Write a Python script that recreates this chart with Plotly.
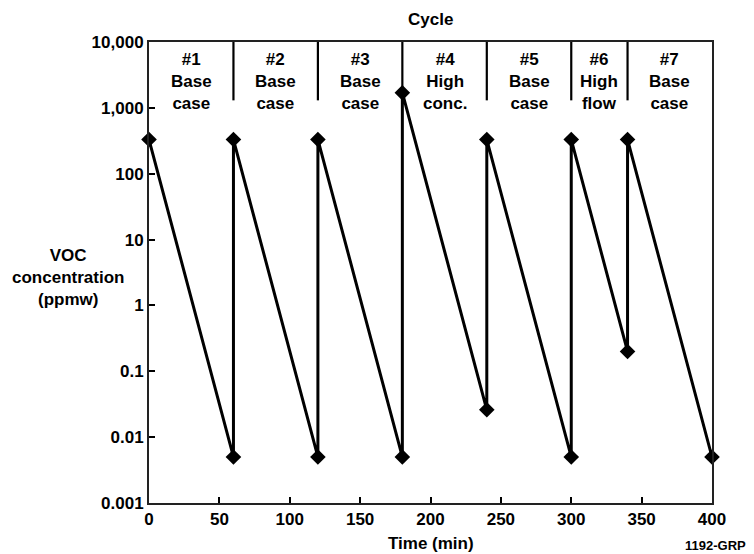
import plotly.graph_objects as go

# Data
time_min = [0, 60, 60, 120, 120, 180, 180, 240, 240, 300, 300, 340, 340, 400]
voc_ppmw = [330, 0.005, 330, 0.005, 330, 0.005, 1700, 0.026, 330, 0.005, 330, 0.2, 330, 0.005]

cycle_edges = [0, 60, 120, 180, 240, 300, 340, 400]
cycle_labels = ["#1<br>Base<br>case", "#2<br>Base<br>case", "#3<br>Base<br>case",
                "#4<br>High<br>conc.", "#5<br>Base<br>case", "#6<br>High<br>flow",
                "#7<br>Base<br>case"]
divider_bottom = 1300
divider_top = 10000

y_tickvals = [0.001, 0.01, 0.1, 1, 10, 100, 1000, 10000]
y_ticktext = ["0.001", "0.01", "0.1", "1", "10", "100", "1,000", "10,000"]
x_tickvals = [0, 50, 100, 150, 200, 250, 300, 350, 400]

FONT = "Liberation Sans, Arial, Helvetica, sans-serif"

fig = go.Figure()

# dividers between cycles
dx, dy = [], []
for e in cycle_edges[1:-1]:
    dx += [e, e, None]
    dy += [divider_bottom, divider_top, None]
fig.add_trace(go.Scatter(x=dx, y=dy, mode="lines",
                         line=dict(color="black", width=2.2),
                         hoverinfo="skip", showlegend=False, cliponaxis=False))

fig.add_trace(go.Scatter(x=time_min, y=voc_ppmw, mode="lines+markers",
                         line=dict(color="black", width=3),
                         marker=dict(symbol="diamond", size=12, color="black"),
                         showlegend=False, cliponaxis=False))

annotations = []
for i, lab in enumerate(cycle_labels):
    mid = (cycle_edges[i] + cycle_edges[i + 1]) / 2
    annotations.append(dict(x=mid, xref="x", y=1, yref="paper", yanchor="top",
                            yshift=-6, text=lab, showarrow=False,
                            font=dict(family=FONT, size=17, color="black", weight="bold")))

annotations.append(dict(x=0.5, xref="paper", y=1, yref="paper", yanchor="middle",
                        yshift=23, text="Cycle", showarrow=False,
                        font=dict(family=FONT, size=17, color="black", weight="bold")))
annotations.append(dict(x=0.5, xref="paper", y=0, yref="paper", yanchor="middle",
                        yshift=-40, text="Time (min)", showarrow=False,
                        font=dict(family=FONT, size=17, color="black", weight="bold")))
annotations.append(dict(x=1, xref="paper", y=0, yref="paper", yanchor="middle",
                        xanchor="right", xshift=36, yshift=-42, text="1192-GRP", showarrow=False,
                        font=dict(family=FONT, size=13, color="black", weight="bold")))
annotations.append(dict(x=0, xref="paper", y=0.49, yref="paper", yanchor="middle",
                        xanchor="center", xshift=-81,
                        text="VOC<br>concentration<br>(ppmw)", showarrow=False,
                        font=dict(family=FONT, size=17, color="black", weight="bold")))

# page body has an 8px margin, so the figure is drawn 8px smaller and offset
fig.update_layout(
    width=746, height=546,
    margin=dict(l=141, r=42, t=34, b=51),
    paper_bgcolor="white", plot_bgcolor="white",
    annotations=annotations,
    font=dict(family=FONT, size=17, color="black"),
)
fig.update_xaxes(range=[0, 400], tickvals=x_tickvals, ticks="inside", ticklen=6,
                 tickwidth=2, tickcolor="black", showline=True, linecolor="#222",
                 linewidth=2, mirror=True, showgrid=False, zeroline=False,
                 tickfont=dict(family=FONT, size=17, color="black", weight="bold"))
fig.update_yaxes(type="log", range=[-3, 4], tickvals=y_tickvals, ticktext=y_ticktext,
                 ticks="inside", ticklen=6, tickwidth=2, tickcolor="black",
                 showline=True, linecolor="#222", linewidth=2, mirror=True,
                 showgrid=False, zeroline=False,
                 tickfont=dict(family=FONT, size=17, color="black", weight="bold"))

fig.write_html("out.html")
